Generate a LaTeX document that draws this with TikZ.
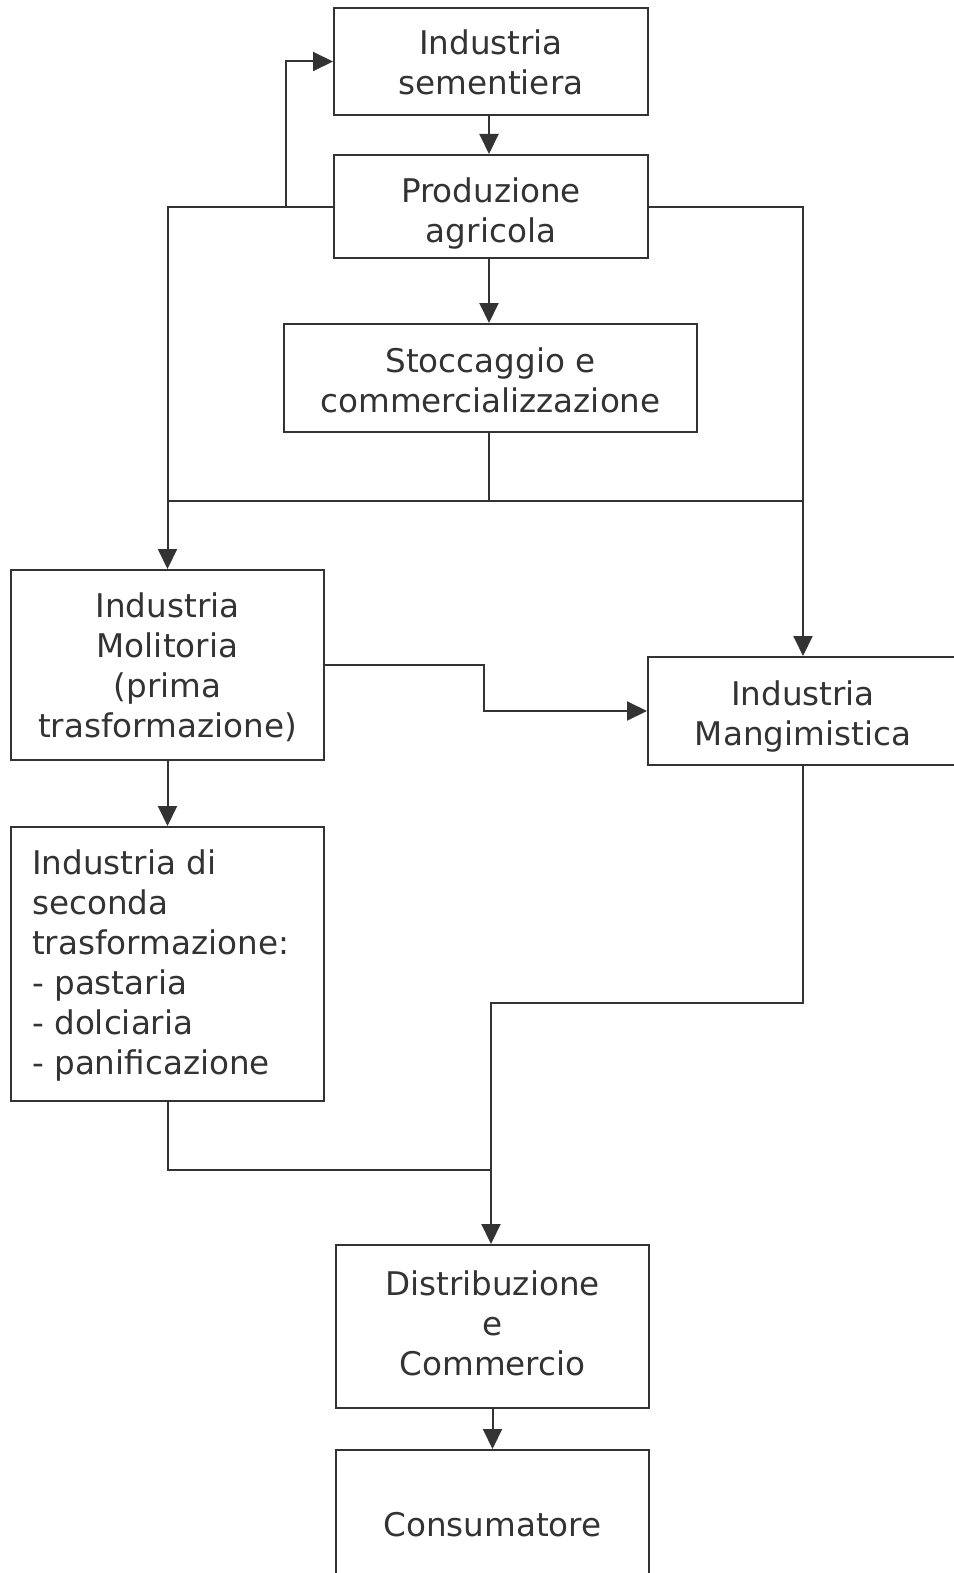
\documentclass[tikz,border=0pt]{standalone}
\usepackage{fontspec}
\setmainfont{DejaVu Sans}
\usetikzlibrary{arrows.meta}
\definecolor{ink}{HTML}{333333}
\tikzset{
  box/.style={draw=ink, line width=2pt, inner sep=0pt},
  txt/.style={inner sep=0pt, text=ink, align=center, font=\fontsize{32.6}{40}\selectfont},
  conn/.style={draw=ink, line width=2pt},
  arr/.style={conn, -{Triangle[length=20pt,width=19pt]}}
}
\begin{document}
\begin{tikzpicture}[x=1pt,y=-1pt]
\useasboundingbox (0,0) rectangle (953,1573);
\node[box, minimum width=314pt, minimum height=107pt,
  label={[txt, yshift=-1pt]center:Industria\\sementiera}] (sem) at (491,61.5) {};
\node[box, minimum width=314pt, minimum height=103pt,
  label={[txt, yshift=-7pt]center:Produzione\\agricola}] (prod) at (491,206.5) {};
\node[box, minimum width=413pt, minimum height=108pt,
  label={[txt, yshift=-2pt]center:Stoccaggio e\\commercializzazione}] (sto) at (490.5,378) {};
\node[box, minimum width=313pt, minimum height=190pt,
  label={[txt, yshift=-2pt]center:Industria\\Molitoria\\(prima\\trasformazione)}] (mol) at (167.5,665) {};
\node[box, minimum width=310pt, minimum height=108pt,
  label={[txt, yshift=-5pt]center:Industria\\Mangimistica}] (mang) at (803,711) {};
\node[box, minimum width=313pt, minimum height=274pt,
  label={[txt, align=left, anchor=west, xshift=22pt, yshift=-1pt]west:Industria di\\seconda\\trasformazione:\\- pastaria\\- dolciaria\\- panificazione}] (sec) at (167.5,964) {};
\node[box, minimum width=313pt, minimum height=163pt,
  label={[txt, yshift=3pt]center:Distribuzione\\e\\Commercio}] (dist) at (492.5,1326.5) {};
\node[box, minimum width=313pt, minimum height=138pt,
  label={[txt, yshift=-6pt]center:Consumatore}] (cons) at (492.5,1519) {};

\coordinate (fb) at (286,206.5);
\coordinate (j) at (489,501);
\coordinate (bend) at (484,711);

\draw[arr] (489,115) coordinate (s1) -- (prod.north -| s1);
\draw[arr] (prod.west) -| (mol.north);
\draw[arr] (fb) |- (sem.west);
\draw[arr] (prod.east) -| (mang.north);
\draw[arr] (prod.south -| j) -- (sto.north -| j);
\draw[conn] (sto.south -| j) -- (j);
\draw[conn] (mol.north |- j) -- (mang.north |- j);
\draw[arr] (mol.east) -| (bend) |- (mang.west);
\draw[arr] (mol.south) -- (sec.north);
\draw[arr] (mang.south) |- (491,1003) -- (dist.north -| 491,0);
\draw[conn] (sec.south) |- (491,1170);
\draw[arr] (dist.south) -- (cons.north);
\end{tikzpicture}
\end{document}
